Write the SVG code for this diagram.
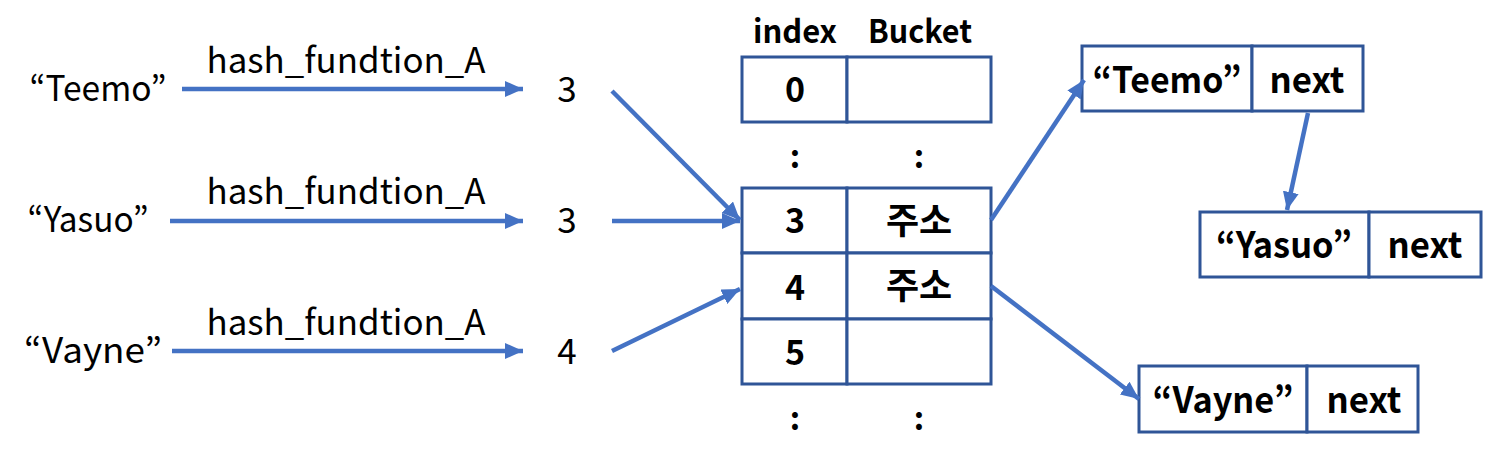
<svg xmlns="http://www.w3.org/2000/svg" width="1487" height="463" viewBox="0 0 1487 463">
<defs>
<marker id="ah" markerUnits="userSpaceOnUse" markerWidth="20" markerHeight="16" refX="18" refY="8" orient="auto">
<path d="M0,0 L18,8 L0,16 Z" fill="#4472C4"/>
</marker>
<style>
.lbl{font-family:"Malgun Gothic","Noto Sans CJK KR","Noto Sans",sans-serif;font-size:35px;fill:#000;text-anchor:middle}
.b{font-family:"Malgun Gothic","Noto Sans CJK KR","Noto Sans",sans-serif;font-weight:bold;fill:#000;text-anchor:middle}
.cell{fill:#fff;stroke:#2F5597;stroke-width:3}
.arr{stroke:#4472C4;stroke-width:4.5;fill:none;marker-end:url(#ah)}
</style>
</defs>
<rect width="1487" height="463" fill="#fff"/>

<g id="inputs">
<text class="lbl" x="98" y="101" textLength="137" lengthAdjust="spacingAndGlyphs">“Teemo”</text>
<text class="lbl" x="88" y="232" textLength="121" lengthAdjust="spacingAndGlyphs">“Yasuo”</text>
<text class="lbl" x="93" y="363" textLength="138" lengthAdjust="spacingAndGlyphs">“Vayne”</text>
<text class="lbl" x="346" y="73" textLength="279" lengthAdjust="spacingAndGlyphs">hash_fundtion_A</text>
<text class="lbl" x="346" y="204" textLength="279" lengthAdjust="spacingAndGlyphs">hash_fundtion_A</text>
<text class="lbl" x="346" y="335" textLength="279" lengthAdjust="spacingAndGlyphs">hash_fundtion_A</text>
<text class="lbl" x="567" y="102">3</text>
<text class="lbl" x="567" y="233">3</text>
<text class="lbl" x="567" y="364">4</text>
</g>

<g id="table">
<text class="b" x="795" y="43" font-size="32" textLength="84" lengthAdjust="spacingAndGlyphs">index</text>
<text class="b" x="920" y="43" font-size="32" textLength="104" lengthAdjust="spacingAndGlyphs">Bucket</text>
<rect class="cell" x="742" y="57" width="105" height="65"/>
<rect class="cell" x="847" y="57" width="144" height="65"/>
<text class="b" x="795" y="102" font-size="34">0</text>
<text class="b" x="795" y="168" font-size="32">:</text>
<text class="b" x="919" y="168" font-size="32">:</text>
<rect class="cell" x="742" y="188" width="105" height="65"/>
<rect class="cell" x="847" y="188" width="144" height="65"/>
<rect class="cell" x="742" y="253" width="105" height="66"/>
<rect class="cell" x="847" y="253" width="144" height="66"/>
<rect class="cell" x="742" y="319" width="105" height="65"/>
<rect class="cell" x="847" y="319" width="144" height="65"/>
<text class="b" x="795" y="233" font-size="34">3</text>
<text class="b" x="919" y="234" font-size="36">주소</text>
<text class="b" x="795" y="300" font-size="34">4</text>
<text class="b" x="919" y="299" font-size="36">주소</text>
<text class="b" x="795" y="365" font-size="34">5</text>
<text class="b" x="795" y="430" font-size="32">:</text>
<text class="b" x="919" y="430" font-size="32">:</text>
</g>

<g id="node-teemo">
<rect class="cell" x="1082" y="46" width="170" height="65"/>
<rect class="cell" x="1252" y="46" width="111" height="65"/>
<text class="b" x="1167" y="93" font-size="36" textLength="149" lengthAdjust="spacingAndGlyphs">“Teemo”</text>
<text class="b" x="1307" y="93" font-size="36" textLength="75" lengthAdjust="spacingAndGlyphs">next</text>
</g>

<g id="node-yasuo">
<rect class="cell" x="1200" y="212" width="169" height="65"/>
<rect class="cell" x="1369" y="212" width="112" height="65"/>
<text class="b" x="1284" y="258" font-size="36" textLength="136" lengthAdjust="spacingAndGlyphs">“Yasuo”</text>
<text class="b" x="1425" y="258" font-size="36" textLength="75" lengthAdjust="spacingAndGlyphs">next</text>
</g>

<g id="node-vayne">
<rect class="cell" x="1139" y="366" width="168" height="66"/>
<rect class="cell" x="1307" y="366" width="111" height="66"/>
<text class="b" x="1223" y="413" font-size="36" textLength="141" lengthAdjust="spacingAndGlyphs">“Vayne”</text>
<text class="b" x="1364" y="413" font-size="36" textLength="75" lengthAdjust="spacingAndGlyphs">next</text>
</g>

<g id="connectors">
<line class="arr" x1="182" y1="89" x2="523" y2="89"/>
<line class="arr" x1="170" y1="221" x2="523" y2="221"/>
<line class="arr" x1="172" y1="351" x2="523" y2="351"/>
<line class="arr" x1="612" y1="91" x2="740" y2="220"/>
<line class="arr" x1="612" y1="221" x2="740" y2="221"/>
<line class="arr" x1="612" y1="351" x2="740" y2="289"/>
<line class="arr" x1="991" y1="220" x2="1084" y2="80"/>
<line class="arr" x1="1308" y1="113" x2="1287" y2="210"/>
<line class="arr" x1="991" y1="286" x2="1139" y2="399"/>
</g>
</svg>
